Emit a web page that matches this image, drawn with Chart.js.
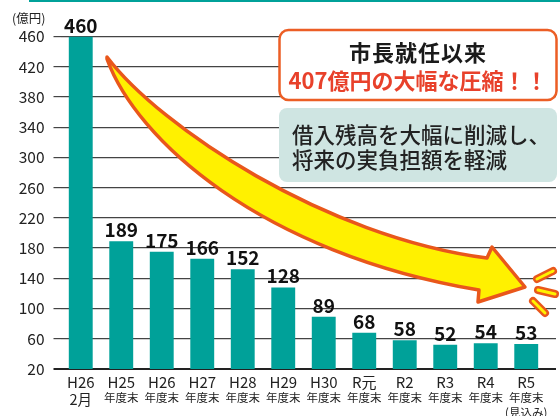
<!DOCTYPE html>
<html><head><meta charset="utf-8">
<script src="https://cdn.jsdelivr.net/npm/chart.js@4/dist/chart.umd.min.js"></script>
<style>html,body{margin:0;padding:0;background:#fff}#wrap{width:560px;height:416px}</style>
</head><body><div id="wrap"><canvas id="c" width="560" height="416"></canvas></div>
<script>
const categories = ['H26','H25','H26','H27','H28','H29','H30','R元','R2','R3','R4','R5'];
const subLabels = [['2月'],['年度末'],['年度末'],['年度末'],['年度末'],['年度末'],['年度末'],['年度末'],['年度末'],['年度末'],['年度末'],['年度末','(見込み)']];
const values = [460,189,175,166,152,128,89,68,58,52,54,53];
const yMin = 20, yMax = 460, yStep = 40;
const unitLabel = '(億円)';
const box1Lines = ['市長就任以来','407億円の大幅な圧縮！！'];
const box2Lines = ['借入残高を大幅に削減し、','将来の実負担額を軽減'];

const FONT = '"Noto Sans CJK JP", "Noto Sans", sans-serif';
const TEAL = '#00a199';
const ORANGE = '#e9571b';

const overlay = {
  id: 'overlay',
  afterDatasetsDraw(chart) {
    const ctx = chart.ctx;
    const meta = chart.getDatasetMeta(0);
    ctx.save();
    ctx.fillStyle = '#111';
    ctx.font = 'bold 19px ' + FONT;
    ctx.textAlign = 'center';
    ctx.textBaseline = 'alphabetic';
    meta.data.forEach((bar, i) => {
      ctx.fillText(String(values[i]), bar.x, bar.y - 4);
    });
    ctx.restore();
  },
  afterDraw(chart) {
    const ctx = chart.ctx;
    const xs = chart.scales.x;
    ctx.save();
    ctx.fillStyle = TEAL;
    ctx.fillRect(29, 0, 531, 2);
    ctx.fillStyle = '#222';
    ctx.font = '12.5px ' + FONT;
    ctx.textAlign = 'left';
    ctx.textBaseline = 'middle';
    ctx.fillText(unitLabel, 12, 18);
    ctx.textAlign = 'center';
    categories.forEach((c, i) => {
      const x = xs.getPixelForValue(i);
      ctx.fillStyle = '#222';
      ctx.font = '15px ' + FONT;
      ctx.fillText(c, x, 382);
      const sub = subLabels[i];
      if (sub[0] === '2月') {
        ctx.font = '14.5px ' + FONT;
        ctx.fillText(sub[0], x, 399);
      } else {
        ctx.font = '11.5px ' + FONT;
        ctx.fillText(sub[0], x, 397.5);
        if (sub[1]) ctx.fillText(sub[1], x, 413);
      }
    });
    ctx.beginPath();
    ctx.moveTo(107, 57);
    ctx.bezierCurveTo(160, 127, 325, 237, 487, 258);
    ctx.lineTo(492, 247);
    ctx.lineTo(525, 287);
    ctx.lineTo(478, 302);
    ctx.lineTo(479, 290);
    ctx.bezierCurveTo(260, 253, 136, 139, 107, 59);
    ctx.closePath();
    ctx.fillStyle = '#fff100';
    ctx.fill();
    ctx.lineJoin = 'round';
    ctx.lineWidth = 3.5;
    ctx.strokeStyle = ORANGE;
    ctx.stroke();
    const sparks = [[[537,279],[553,271]],[[538,290],[555,294]],[[533,301],[545,313]]];
    ctx.lineCap = 'round';
    sparks.forEach(s => {
      ctx.beginPath(); ctx.moveTo(s[0][0], s[0][1]); ctx.lineTo(s[1][0], s[1][1]);
      ctx.strokeStyle = ORANGE; ctx.lineWidth = 8; ctx.stroke();
      ctx.strokeStyle = '#fff100'; ctx.lineWidth = 3; ctx.stroke();
    });
    ctx.beginPath();
    ctx.roundRect(279.5, 30, 277, 70, 9);
    ctx.fillStyle = '#fff';
    ctx.fill();
    ctx.lineWidth = 2.5;
    ctx.strokeStyle = '#ec5e25';
    ctx.stroke();
    ctx.textAlign = 'center';
    ctx.textBaseline = 'middle';
    ctx.font = 'bold 22px ' + FONT;
    ctx.fillStyle = '#1a1a1a';
    try { ctx.letterSpacing = '1px'; } catch (e) {}
    ctx.fillText(box1Lines[0], 418, 53);
    try { ctx.letterSpacing = '0px'; } catch (e) {}
    ctx.fillStyle = '#e8412b';
    ctx.fillText(box1Lines[1], 418, 81);
    ctx.beginPath();
    ctx.roundRect(279, 108, 278, 74, 8);
    ctx.fillStyle = '#cfe5e2';
    ctx.fill();
    ctx.textAlign = 'left';
    ctx.fillStyle = '#222';
    ctx.font = '500 21.5px ' + FONT;
    ctx.fillText(box2Lines[0], 292, 135);
    ctx.fillText(box2Lines[1], 292, 160);
    ctx.restore();
  }
};

new Chart(document.getElementById('c'), {
  type: 'bar',
  data: {
    datasets: [{
      data: values.map((v, i) => ({ x: i, y: v })),
      backgroundColor: TEAL,
      borderWidth: 0,
      barPercentage: 0.59,
      categoryPercentage: 1
    }]
  },
  options: {
    responsive: false,
    animation: false,
    layout: { padding: { left: 0, right: 4, top: 36.5, bottom: 0 } },
    plugins: { legend: { display: false }, tooltip: { enabled: false } },
    scales: {
      x: {
        type: 'linear',
        offset: false,
        min: -0.5,
        max: 11.735,
        grid: { display: false, offset: false },
        border: { display: false },
        ticks: { display: false },
        afterFit(s) { s.height = 47; }
      },
      y: {
        min: yMin,
        max: yMax,
        border: { display: false },
        grid: {
          color: c => c.tick && c.tick.value === yMin ? '#222' : '#444',
          lineWidth: c => c.tick && c.tick.value === yMin ? 2 : 1.2,
          tickLength: 7
        },
        ticks: {
          stepSize: yStep,
          padding: 9,
          color: '#222',
          font: { family: FONT, size: 15.5 }
        },
        afterFit(s) { s.width = 60.5; }
      }
    }
  },
  plugins: [overlay]
});
</script>
</body></html>
